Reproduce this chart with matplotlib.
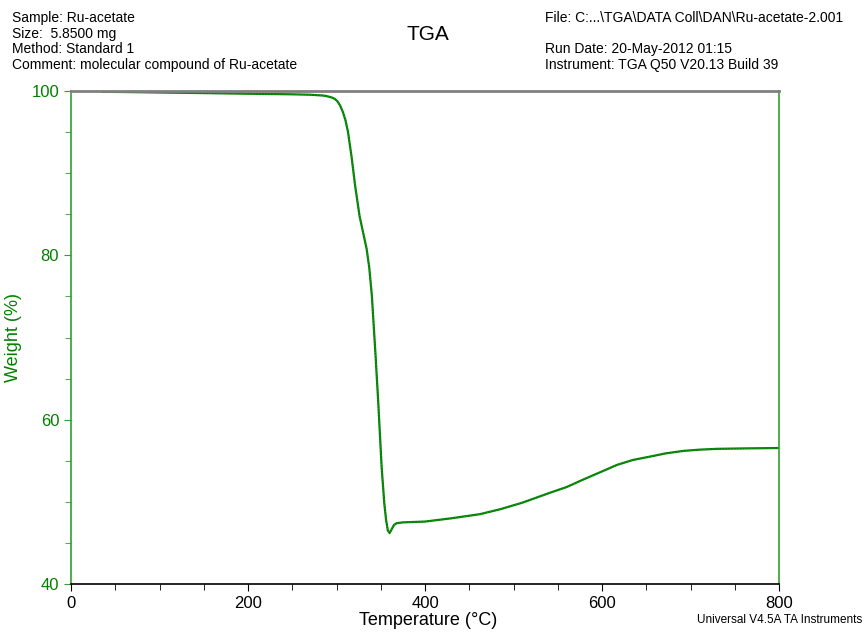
import numpy as np
import matplotlib.pyplot as plt
from matplotlib.ticker import MultipleLocator

plt.rcParams['font.family'] = ['Liberation Sans', 'DejaVu Sans']

# TGA weight-loss curve, Ru-acetate
temp_c = [35, 60, 100, 150, 200, 250, 270, 285, 290, 295, 298, 301, 304, 307, 310,
          313, 317, 321, 326, 330, 334, 337, 340, 344, 347, 351, 354, 356, 358, 360,
          362, 365, 368, 375, 400, 430, 462, 485, 510, 541, 560, 578.5, 600, 617,
          635, 654, 672, 692, 710, 730, 760, 799]
weight_pct = [99.9, 99.88, 99.82, 99.75, 99.67, 99.6, 99.55, 99.45, 99.35, 99.2, 99.05,
              98.75, 98.25, 97.5, 96.5, 95.0, 92.0, 88.5, 84.8, 82.8, 80.8, 78.5, 75.0,
              68.0, 62.4, 54.2, 49.8, 47.8, 46.5, 46.2, 46.6, 47.2, 47.4, 47.5, 47.6,
              48.0, 48.5, 49.1, 49.9, 51.1, 51.8, 52.7, 53.7, 54.5, 55.1, 55.5, 55.9,
              56.2, 56.35, 56.45, 56.5, 56.55]

green = '#008000'
axis_green = '#30a030'

fig = plt.figure(figsize=(8.65, 6.33), dpi=100)
ax = fig.add_axes([0.0821, 0.0774, 0.8185, 0.7788])

ax.plot(temp_c, weight_pct, color=green, linewidth=1.6)
ax.plot(temp_c, weight_pct, color='#2a9a2a', linewidth=0.8, linestyle=':')

ax.set_xlim(0, 800)
ax.set_ylim(40, 100)
ax.xaxis.set_major_locator(MultipleLocator(200))
ax.xaxis.set_minor_locator(MultipleLocator(50))
ax.yaxis.set_major_locator(MultipleLocator(20))
ax.yaxis.set_minor_locator(MultipleLocator(5))

ax.spines['left'].set_color(axis_green)
ax.spines['right'].set_color(axis_green)
ax.spines['top'].set_color('#808080')
ax.spines['bottom'].set_color('black')
for s in ax.spines.values():
    s.set_linewidth(1.2)
ax.spines['top'].set_linewidth(2)

ax.tick_params(axis='x', which='major', direction='out', length=5, colors='black', labelsize=12)
ax.tick_params(axis='x', which='minor', direction='out', length=4, color='black')
ax.tick_params(axis='y', which='major', direction='out', length=5, color=axis_green,
               labelcolor=green, labelsize=12)
ax.tick_params(axis='y', which='minor', direction='out', length=4, color=axis_green)

ax.set_xlabel('Temperature (°C)', fontsize=13)
ax.set_ylabel('Weight (%)', fontsize=13, color=green)
ax.xaxis.set_label_coords(0.504, -0.057)
ax.yaxis.set_label_coords(-0.069, 0.5)

# header block
left_lines = ['Sample: Ru-acetate', 'Size:  5.8500 mg', 'Method: Standard 1',
              'Comment: molecular compound of Ru-acetate']
for i, line in enumerate(left_lines):
    fig.text(12 / 865, 1 - (18 + 15.7 * i) / 633, line, fontsize=10, va='center', ha='left')

fig.text(428 / 865, 1 - 35 / 633, 'TGA', fontsize=15, va='center', ha='center')

fig.text(545 / 865, 1 - 18 / 633, 'File: C:...\\TGA\\DATA Coll\\DAN\\Ru-acetate-2.001',
         fontsize=10, va='center', ha='left')
fig.text(545 / 865, 1 - 49 / 633, 'Run Date: 20-May-2012 01:15', fontsize=10, va='center', ha='left')
fig.text(545 / 865, 1 - 65 / 633, 'Instrument: TGA Q50 V20.13 Build 39', fontsize=10,
         va='center', ha='left')

fig.text(862 / 865, 1 - 620 / 633, 'Universal V4.5A TA Instruments', fontsize=8.5,
         va='center', ha='right')

fig.savefig('out.png', dpi=100)
